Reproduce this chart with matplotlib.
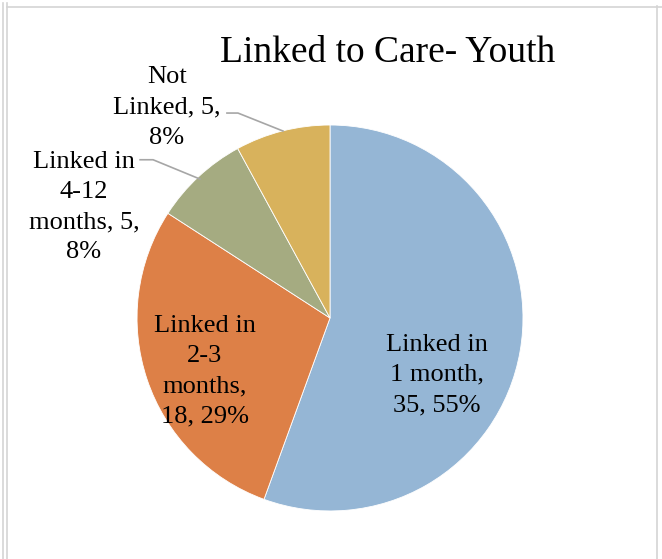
#pie chart of youth linkage to care


import matplotlib.pyplot as plt
from matplotlib.lines import Line2D

categories = ["Linked in 1 month", "Linked in 2-3 months", "Linked in 4-12 months", "Not Linked"]
counts = [35, 18, 5, 5]
label_texts = ["Linked in\n1 month,\n35, 55%", "Linked in\n2-3\nmonths,\n18, 29%",
	"Linked in\n4-12\nmonths, 5,\n8%", "Not\nLinked, 5,\n8%"]
colors = ["#95b6d5", "#dd8047", "#a5ab81", "#d8b25c"]

plt.rcParams['font.family'] = ['Liberation Serif', 'DejaVu Serif']

fig = plt.figure(figsize=(6.62, 5.59), dpi=100)

#frame lines like the spreadsheet window edge
for x in [0.005, 0.011]:
	fig.add_artist(Line2D([x, x], [0, 0.995], color="#d4d4d4", lw=1.2))
fig.add_artist(Line2D([0.992, 0.992], [0, 0.99], color="#d4d4d4", lw=1.2))
fig.add_artist(Line2D([0.011, 1], [0.988, 0.988], color="#d4d4d4", lw=1.2))

ax = fig.add_axes([0.207, 0.0859, 0.583, 0.6905])
ax.pie(counts, colors=colors, startangle=90, counterclock=False, radius=1,
	wedgeprops=dict(edgecolor="white", linewidth=0.6))
ax.set_xlim(-1, 1)
ax.set_ylim(-1, 1)
ax.set_aspect("equal")
ax.axis("off")

#label positions in data units (radius = 1)
label_pos = [(0.554, -0.295), (-0.648, -0.275), (-1.275, 0.575), (-0.845, 1.09)]
for txt, (x, y) in zip(label_texts, label_pos):
	ax.text(x, y, txt, ha="center", va="center", fontsize=19, linespacing=1.48, clip_on=False)

#leader lines
ax.plot([-0.984, -0.917, -0.674], [0.82, 0.82, 0.72], color="#a6a6a6", lw=1.2, clip_on=False)
ax.plot([-0.534, -0.477, -0.244], [1.062, 1.062, 0.969], color="#a6a6a6", lw=1.2, clip_on=False)

fig.text(0.585, 0.905, "Linked to Care- Youth", ha="center", va="center", fontsize=27)

plt.savefig("out.png", dpi=100)
